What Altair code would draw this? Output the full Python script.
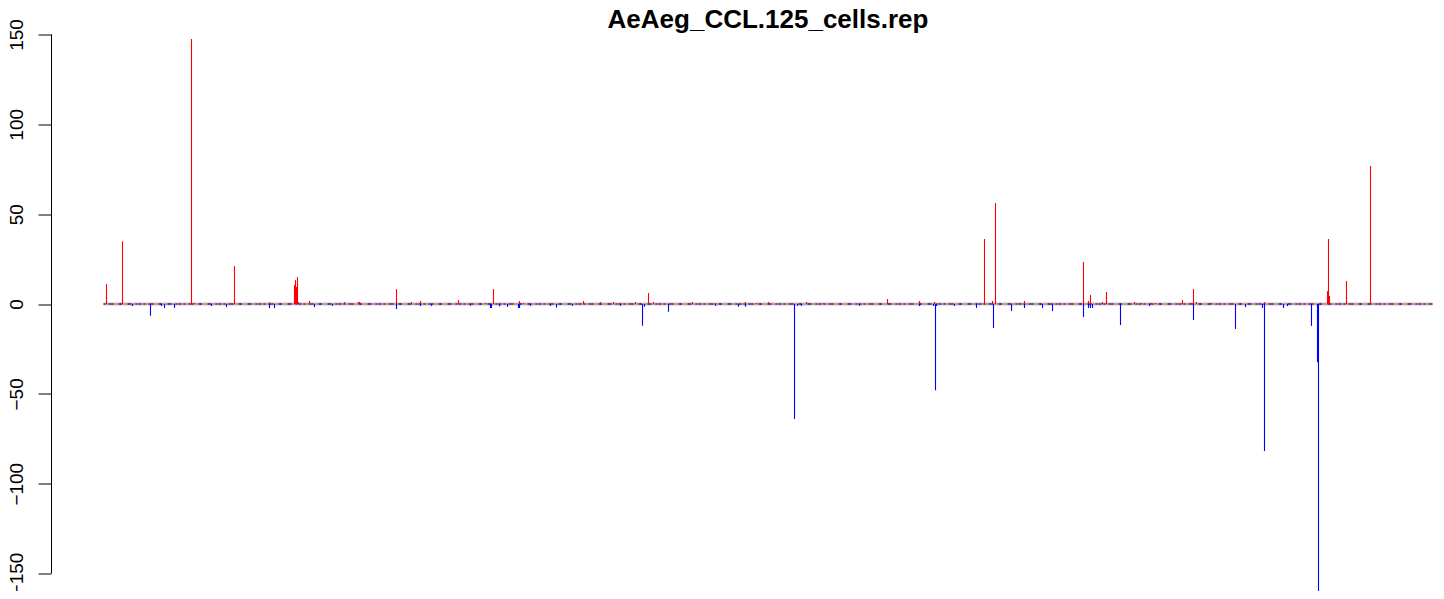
import altair as alt
import pandas as pd

TITLE = "AeAeg_CCL.125_cells.rep"

# forward-strand (red, positive) bars: bin index and value
fwd_bins = [2, 18, 87, 90, 130, 165, 190, 191, 192, 193, 194, 205, 240, 254, 255,
            292, 307, 316, 354, 381, 389, 415, 419, 479, 496, 509, 516, 531, 544,
            549, 588, 611, 641, 652, 664, 702, 719, 783, 815, 830, 840, 872, 880,
            888, 891, 916, 920, 948, 979, 984, 986, 998, 1002, 1030, 1037, 1047,
            1051, 1078, 1087, 1089, 1092, 1107, 1160, 1223, 1224, 1225, 1242, 1266,
            1306]
fwd_vals = [11.1, 35.0, 147.5, 0.6, 21.1, 1.0, 10.6, 13.3, 9.5, 15.0, 1.0, 1.7, 1.1,
            1.1, 1.1, 8.3, 1.1, 1.7, 2.2, 0.6, 8.3, 1.7, 0.6, 1.7, 1.1, 1.1, 0.6,
            1.1, 6.1, 1.1, 1.1, 0.6, 1.1, 0.6, 1.1, 1.1, 0.6, 2.8, 1.7, 1.1, 0.6,
            0.6, 36.2, 1.7, 56.2, 0.6, 1.7, 0.6, 23.4, 1.7, 5.0, 1.1, 6.7, 1.1, 0.6,
            0.6, 0.6, 2.2, 0.6, 8.3, 1.1, 0.6, 1.1, 7.2, 36.2, 4.5, 12.8, 76.8, 0.6]

# reverse-strand (blue, negative) bars
rev_bins = [28, 46, 57, 60, 70, 107, 122, 165, 170, 210, 228, 292, 316, 327, 366,
            386, 387, 395, 403, 414, 415, 426, 446, 452, 468, 516, 538, 540, 564,
            611, 634, 641, 690, 693, 697, 755, 815, 829, 831, 832, 850, 872, 889,
            907, 920, 938, 948, 979, 984, 986, 988, 1016, 1045, 1089, 1131, 1141,
            1158, 1160, 1179, 1183, 1207, 1213, 1214]
rev_vals = [-1.1, -6.5, -1.1, -2.2, -2.2, -1.1, -1.7, -2.2, -2.2, -1.7, -1.0, -2.8,
            -1.1, -1.0, -0.9, -2.2, -2.2, -1.3, -1.6, -2.2, -2.2, -1.0, -1.0, -2.0,
            -1.0, -1.0, -12.1, -1.5, -4.3, -1.0, -1.5, -1.5, -64.0, -1.0, -1.0, -1.0,
            -1.1, -1.1, -48.0, -1.1, -1.1, -2.2, -13.4, -3.9, -2.2, -2.2, -3.9, -7.2,
            -2.2, -2.2, -2.2, -11.7, -1.1, -8.9, -13.9, -1.7, -2.2, -81.8, -2.2, -1.1,
            -12.2, -32.3, -170.0]

y_ticks = [-150, -100, -50, 0, 50, 100, 150]
x_first, x_last = -1, 1328

bars = pd.DataFrame({
    "bin": fwd_bins + rev_bins,
    "value": fwd_vals + rev_vals,
    "strand": ["+"] * len(fwd_bins) + ["-"] * len(rev_bins),
})

xs = alt.Scale(domain=[-53.5, 1331.5], nice=False, zero=False)
ys = alt.Scale(domain=[-159.7, 163.9], nice=False, zero=False)

base_df = pd.DataFrame({"x": [x_first], "x2": [x_last], "y": [0]})


def baseline(color, width, **kw):
    return alt.Chart(base_df).mark_rule(color=color, strokeWidth=width, **kw).encode(
        x=alt.X("x:Q", scale=xs, axis=None), x2="x2:Q",
        y=alt.Y("y:Q", scale=ys))


baseline_light = baseline("#c8c8c8", 3)
baseline_dark = baseline("#8a8a8a", 1)
baseline_red = baseline("red", 1.3, strokeDash=[2, 6])
baseline_blue = baseline("blue", 1.2, strokeDash=[3, 7], strokeDashOffset=5)

bar_layer = alt.Chart(bars).mark_rule(strokeWidth=1.1, clip=True).encode(
    x=alt.X("bin:Q", scale=xs, axis=None),
    y=alt.Y("value:Q", scale=ys,
            axis=alt.Axis(values=y_ticks, title=None, grid=False, domain=False,
                          ticks=True, tickSize=13, tickColor="black", tickWidth=1,
                          labelAngle=270, labelAlign="center",
                          labelBaseline="alphabetic", labelPadding=16,
                          labelFont="Liberation Sans", labelFontSize=19,
                          labelColor="black", labelOverlap=False,
                          labelFlush=False)),
    y2=alt.datum(0),
    color=alt.Color("strand:N", scale=alt.Scale(domain=["+", "-"], range=["red", "blue"]),
                    legend=None),
)

axis_line = alt.Chart(pd.DataFrame({"a": [-150], "b": [150]})).mark_rule(
    color="black", strokeWidth=1).encode(
    x=alt.value(0.5),
    y=alt.Y("a:Q", scale=ys),
    y2="b:Q")

title_text = alt.Chart(pd.DataFrame({"t": [TITLE]})).mark_text(
    font="Liberation Sans", fontSize=26, fontWeight="bold", color="black",
    align="center", baseline="alphabetic").encode(
    text="t:N", x=alt.value(717), y=alt.value(18.5))

chart = alt.layer(
    baseline_light, baseline_dark, baseline_red, baseline_blue,
    bar_layer, axis_line, title_text
).properties(
    width=1385, height=581.5,
    autosize=alt.AutoSizeParams(type="none"),
    padding={"left": 43, "top": 1.5, "right": 0, "bottom": 0},
).configure_view(stroke=None)

chart.save("out.html", embed_options={"renderer": "svg", "actions": False})
